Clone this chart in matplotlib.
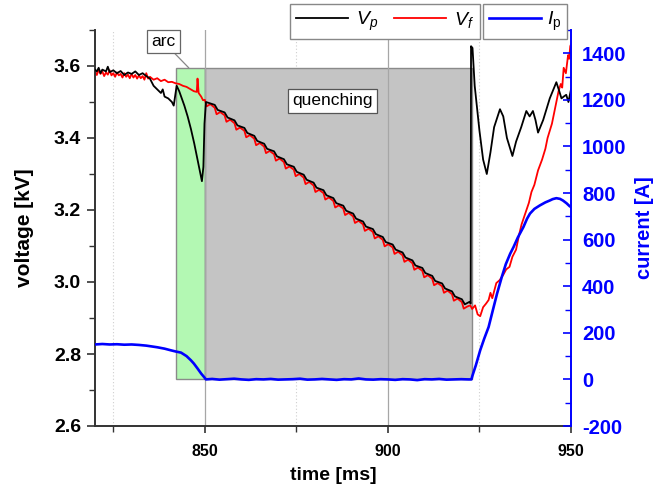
import matplotlib
matplotlib.use("Agg")
import matplotlib.pyplot as plt
from matplotlib.patches import Rectangle
from matplotlib.ticker import MultipleLocator

plt.rcParams['font.family'] = ['Liberation Sans', 'DejaVu Sans']
plt.rcParams['mathtext.fontset'] = 'custom'
plt.rcParams['mathtext.rm'] = 'Liberation Sans'
plt.rcParams['mathtext.it'] = 'Liberation Sans:italic'
plt.rcParams['axes.unicode_minus'] = False

# ---------------- data ----------------
# V_p (black)
tp = [820, 820.5, 821, 821.5, 822, 823, 823.5, 824, 825, 826, 827, 828, 829, 830, 831, 832, 833, 834,
      835, 836, 837, 838, 838.5, 839, 840, 841, 841.5, 842.3, 843, 844.4, 845.3, 846.2, 847.1, 848, 848.6,
      849.2, 849.6, 849.9, 850.3,
      852.7, 853.5, 855.4, 856.2, 858.1, 858.9, 860.8, 861.6, 863.5, 864.3, 866.2, 867.0, 868.9, 869.7,
      871.6, 872.4, 874.3, 875.1, 877.0, 877.8, 879.7, 880.5, 882.4, 883.2, 885.1, 885.9, 887.8, 888.6,
      890.5, 891.3, 893.2, 894.0, 895.9, 896.7, 898.6, 899.4, 901.3, 902.1, 904.0, 904.8, 906.7, 907.5,
      909.4, 910.2, 912.1, 912.9, 914.8, 915.6, 917.5, 918.3, 920.2, 921.0, 922.3, 922.6,
      922.7, 923.1, 923.7, 925, 926, 927, 928, 929, 930.6, 931.5, 932.5, 934, 935, 936.4, 937.8, 938.7,
      939.6, 940.3, 941, 942.4, 943.3, 944.2, 945, 946, 946.8, 947.4, 948, 948.7, 949.3, 950]
vp = [3.590, 3.585, 3.595, 3.580, 3.590, 3.585, 3.598, 3.583, 3.588, 3.580, 3.586, 3.575, 3.582, 3.578,
      3.585, 3.575, 3.580, 3.572, 3.565, 3.545, 3.535, 3.525, 3.535, 3.515, 3.510, 3.500, 3.490, 3.545,
      3.530, 3.490, 3.460, 3.425, 3.385, 3.340, 3.310, 3.280, 3.320, 3.440, 3.500,
      3.492, 3.478, 3.471, 3.457, 3.449, 3.435, 3.428, 3.414, 3.406, 3.392, 3.384, 3.370, 3.363, 3.349,
      3.341, 3.327, 3.320, 3.306, 3.298, 3.284, 3.276, 3.262, 3.255, 3.241, 3.233, 3.219, 3.212, 3.198,
      3.190, 3.176, 3.168, 3.154, 3.147, 3.133, 3.125, 3.111, 3.104, 3.090, 3.082, 3.068, 3.060, 3.046,
      3.039, 3.025, 3.017, 3.003, 2.996, 2.982, 2.974, 2.960, 2.952, 2.938, 2.945, 2.940,
      3.655, 3.650, 3.545, 3.420, 3.340, 3.300, 3.360, 3.430, 3.480, 3.460, 3.400, 3.350, 3.390, 3.430,
      3.475, 3.460, 3.475, 3.450, 3.415, 3.450, 3.480, 3.510, 3.530, 3.555, 3.530, 3.510, 3.515, 3.520,
      3.500, 3.535]

# V_f (red)
tf = [820, 820.5, 821, 821.5, 822, 822.5, 823, 823.5, 824, 824.5, 825, 825.5, 826, 826.5, 827, 827.5,
      828, 828.5, 829, 829.5, 830, 830.5, 831, 831.5, 832, 832.5, 833, 833.5, 834, 834.5, 835, 836, 837,
      838, 839, 840, 841, 842, 843, 844, 845, 846, 847, 847.8, 848, 848.3, 849, 849.5,
      850.0, 850.5, 851.5, 852.7, 853.2, 854.2, 855.4, 855.9, 856.9, 858.1, 858.6, 859.6,
      860.8, 861.3, 862.3, 863.5, 864.0, 865.0, 866.2, 866.7, 867.7, 868.9, 869.4, 870.4,
      871.6, 872.1, 873.1, 874.3, 874.8, 875.8, 877.0, 877.5, 878.5, 879.7, 880.2, 881.2,
      882.4, 882.9, 883.9, 885.1, 885.6, 886.6, 887.8, 888.3, 889.3, 890.5, 891.0, 892.0,
      893.2, 893.7, 894.7, 895.9, 896.4, 897.4, 898.6, 899.1, 900.1, 901.3, 901.8, 902.8,
      904.0, 904.5, 905.5, 906.7, 907.2, 908.2, 909.4, 909.9, 910.9, 912.1, 912.6, 913.6,
      914.8, 915.3, 916.3, 917.5, 918.0, 919.0, 920.2, 920.7, 921.7, 922.5,
      923, 923.8, 924.5, 925.2, 926, 926.8, 927.5, 928, 928.5, 929.6, 930.5, 931.5, 932.3, 933.2, 934,
      935, 935.8, 936.5, 937.5, 938.5, 939.2, 940, 941, 942.1, 943, 943.6, 944.2, 944.8, 945.6, 946.6,
      947.2, 947.6, 948, 948.6, 949.2, 949.5, 949.8, 950]
vf = [3.585, 3.575, 3.590, 3.578, 3.585, 3.572, 3.582, 3.576, 3.588, 3.574, 3.580, 3.570, 3.582, 3.574,
      3.578, 3.568, 3.580, 3.570, 3.576, 3.566, 3.578, 3.568, 3.575, 3.565, 3.574, 3.566, 3.572, 3.562,
      3.580, 3.565, 3.570, 3.562, 3.566, 3.558, 3.562, 3.555, 3.556, 3.552, 3.550, 3.545, 3.542, 3.536,
      3.530, 3.528, 3.565, 3.525, 3.515, 3.505,
      3.506, 3.488, 3.494, 3.484, 3.466, 3.472, 3.463, 3.445, 3.451, 3.441, 3.423, 3.429,
      3.420, 3.402, 3.408, 3.398, 3.380, 3.386, 3.376, 3.358, 3.364, 3.355, 3.337, 3.343,
      3.333, 3.315, 3.321, 3.312, 3.294, 3.300, 3.290, 3.272, 3.278, 3.268, 3.250, 3.256,
      3.247, 3.229, 3.235, 3.225, 3.207, 3.213, 3.204, 3.186, 3.192, 3.182, 3.164, 3.170,
      3.160, 3.142, 3.148, 3.139, 3.121, 3.127, 3.117, 3.099, 3.105, 3.096, 3.078, 3.084,
      3.074, 3.056, 3.062, 3.052, 3.034, 3.040, 3.031, 3.013, 3.019, 3.009, 2.991, 2.997,
      2.988, 2.970, 2.976, 2.966, 2.948, 2.954, 2.944, 2.926, 2.932, 2.935,
      2.925, 2.935, 2.910, 2.905, 2.930, 2.940, 2.950, 2.970, 2.955, 2.997, 3.005, 3.020, 3.035, 3.042,
      3.070, 3.090, 3.130, 3.160, 3.190, 3.220, 3.250, 3.270, 3.310, 3.340, 3.370, 3.400, 3.420, 3.440,
      3.480, 3.530, 3.550, 3.540, 3.595, 3.580, 3.630, 3.620, 3.655, 3.660]

# I_p (blue), in A
ti = [820, 822, 824, 826, 828, 830, 832, 834, 835.3, 837, 839, 840.7, 842, 843.5, 845, 846.2, 847, 848,
      849, 849.8, 850.3, 852, 854, 856, 858, 860, 862, 864, 866, 868, 870, 872, 874, 876, 878, 880, 882,
      884, 886, 888, 890, 892, 894, 896, 898, 900, 902, 904, 906, 908, 910, 912, 914, 916, 918, 920, 922,
      922.8, 923.1, 924, 925.2, 926.3, 927.5, 928.7, 929.8, 931.1, 932.2, 933.4, 934.3, 935.5, 937, 938,
      938.8, 940, 941.5, 943, 944.2, 945, 946, 947, 947.8, 948.8, 949.6, 950]
ip = [150, 152, 150, 151, 149, 150, 148, 145, 142, 138, 132, 125, 120, 115, 100, 82, 68, 47, 25, 10, 0,
      2, -1, 1, 3, 0, -2, 1, 0, 2, -1, 0, 1, 3, -1, 0, 2, 0, -2, 1, 0, 4, 0, -1, 1, 0, -2, 1, 0, -3, 1, 0,
      2, -1, 0, 1, 0, 0, 17, 60, 125, 175, 225, 300, 368, 440, 495, 540, 568, 610, 654, 690, 712, 732,
      747, 760, 768, 774, 778, 775, 768, 756, 744, 740]

arc_span = (842.1, 850.0)
quench_span = (850.0, 922.9)
box_top_kv = 3.595
box_bottom_a = 0.0

# ---------------- figure ----------------
fig = plt.figure(figsize=(6.6, 4.93), dpi=100)
ax = fig.add_axes([95 / 660, 67 / 493, 476 / 660, 396 / 493])
ax2 = ax.twinx()

ax.set_xlim(820, 950)
ax.set_ylim(2.6, 3.7)
ax2.set_ylim(-200, 1500)

# convert bottom (0 A) to kV for rectangles
y0, y1 = ax.get_ylim()
a0, a1 = ax2.get_ylim()
box_bottom_kv = y0 + (box_bottom_a - a0) / (a1 - a0) * (y1 - y0)

ax.add_patch(Rectangle((arc_span[0], box_bottom_kv), arc_span[1] - arc_span[0],
                       box_top_kv - box_bottom_kv, facecolor='#b3f8b3', edgecolor='#8a8a8a',
                       lw=1.0, zorder=0.8))
ax.add_patch(Rectangle((quench_span[0], box_bottom_kv), quench_span[1] - quench_span[0],
                       box_top_kv - box_bottom_kv, facecolor='#c4c4c4', edgecolor='#8a8a8a',
                       lw=1.0, zorder=0.8))

# grid
ax.xaxis.set_major_locator(MultipleLocator(50))
ax.xaxis.set_minor_locator(MultipleLocator(25))
ax.yaxis.set_major_locator(MultipleLocator(0.2))
ax.yaxis.set_minor_locator(MultipleLocator(0.1))
ax2.yaxis.set_major_locator(MultipleLocator(200))
ax2.yaxis.set_minor_locator(MultipleLocator(100))
ax.set_axisbelow(True)
ax.grid(which='minor', axis='x', ls=(0, (1, 2)), color='#cfcfcf', lw=0.8)
for xv in (850, 900):
    ax.axvline(xv, color='#a6a6a6', lw=0.9, zorder=0.9)

l1, = ax.plot(tp, vp, color='black', lw=1.3, zorder=3, label='$V_p$')
l2, = ax.plot(tf, vf, color='#ff0000', lw=1.3, zorder=2.5, label='$V_f$')
l3, = ax2.plot(ti, ip, color='#0000ff', lw=1.9, label=r'$I_\mathrm{p}$')

# annotations
ax.annotate('arc', xy=(845.6, box_top_kv), xytext=(838.6, 3.668), fontsize=12.5,
            ha='center', va='center',
            bbox=dict(boxstyle='square,pad=0.25', fc='white', ec='#666666', lw=0.9),
            arrowprops=dict(arrowstyle='-', color='#888888', lw=0.9, shrinkA=0, shrinkB=0))
ax.text(884.9, 3.503, 'quenching', fontsize=12.5, ha='center', va='center',
        bbox=dict(boxstyle='square,pad=0.25', fc='white', ec='#555555', lw=0.9), zorder=4)

# spines and ticks
ax.spines['top'].set_visible(False)
ax2.spines['top'].set_visible(False)
ax.spines['right'].set_visible(False)
for s in ('left', 'bottom'):
    ax.spines[s].set_color('#333333')
    ax.spines[s].set_linewidth(1.4)
ax2.spines['left'].set_visible(False)
ax2.spines['bottom'].set_visible(False)
ax2.spines['right'].set_color('#0000ff')
ax2.spines['right'].set_linewidth(1.4)

ax.tick_params(axis='x', which='major', direction='out', length=5, width=1.2, color='#333333',
               labelsize=11.5, pad=8)
ax.tick_params(axis='x', which='minor', direction='out', length=4, width=1.0, color='#333333')
ax.tick_params(axis='y', which='major', direction='out', length=6, width=1.2, color='#333333',
               labelsize=14, pad=4)
ax.tick_params(axis='y', which='minor', direction='out', length=4, width=1.0, color='#333333')
ax2.tick_params(axis='y', which='major', direction='in', length=6, width=1.2, color='#0000ff',
                labelcolor='#0000ff', labelsize=14.5, pad=8)
ax2.tick_params(axis='y', which='minor', direction='in', length=4, width=1.0, color='#0000ff')
for lab in ax.get_xticklabels() + ax.get_yticklabels() + ax2.get_yticklabels():
    lab.set_fontweight('bold')

ax.set_xlabel('time [ms]', fontsize=14, fontweight='bold', labelpad=6)
ax.set_ylabel('voltage [kV]', fontsize=15, fontweight='bold', labelpad=14)
ax2.set_ylabel('current [A]', fontsize=14.5, fontweight='bold', color='#0000ff', labelpad=6)

# legends
leg1 = fig.legend(handles=[l1, l2], loc='upper left', bbox_to_anchor=(290 / 660, 1 - 4 / 493),
                  ncol=2, fontsize=14, frameon=True, fancybox=False, framealpha=1,
                  edgecolor='#888888', handlelength=2.7, handletextpad=0.4, columnspacing=0.8,
                  borderpad=0.3, borderaxespad=0)
leg1.get_frame().set_linewidth(1.0)
leg2 = fig.legend(handles=[l3], loc='upper left', bbox_to_anchor=(483 / 660, 1 - 4 / 493),
                  fontsize=14, frameon=True, fancybox=False, framealpha=1,
                  edgecolor='#888888', handlelength=2.7, handletextpad=0.3,
                  borderpad=0.3, borderaxespad=0)
leg2.get_frame().set_linewidth(1.0)

fig.savefig('out.png', dpi=100)
